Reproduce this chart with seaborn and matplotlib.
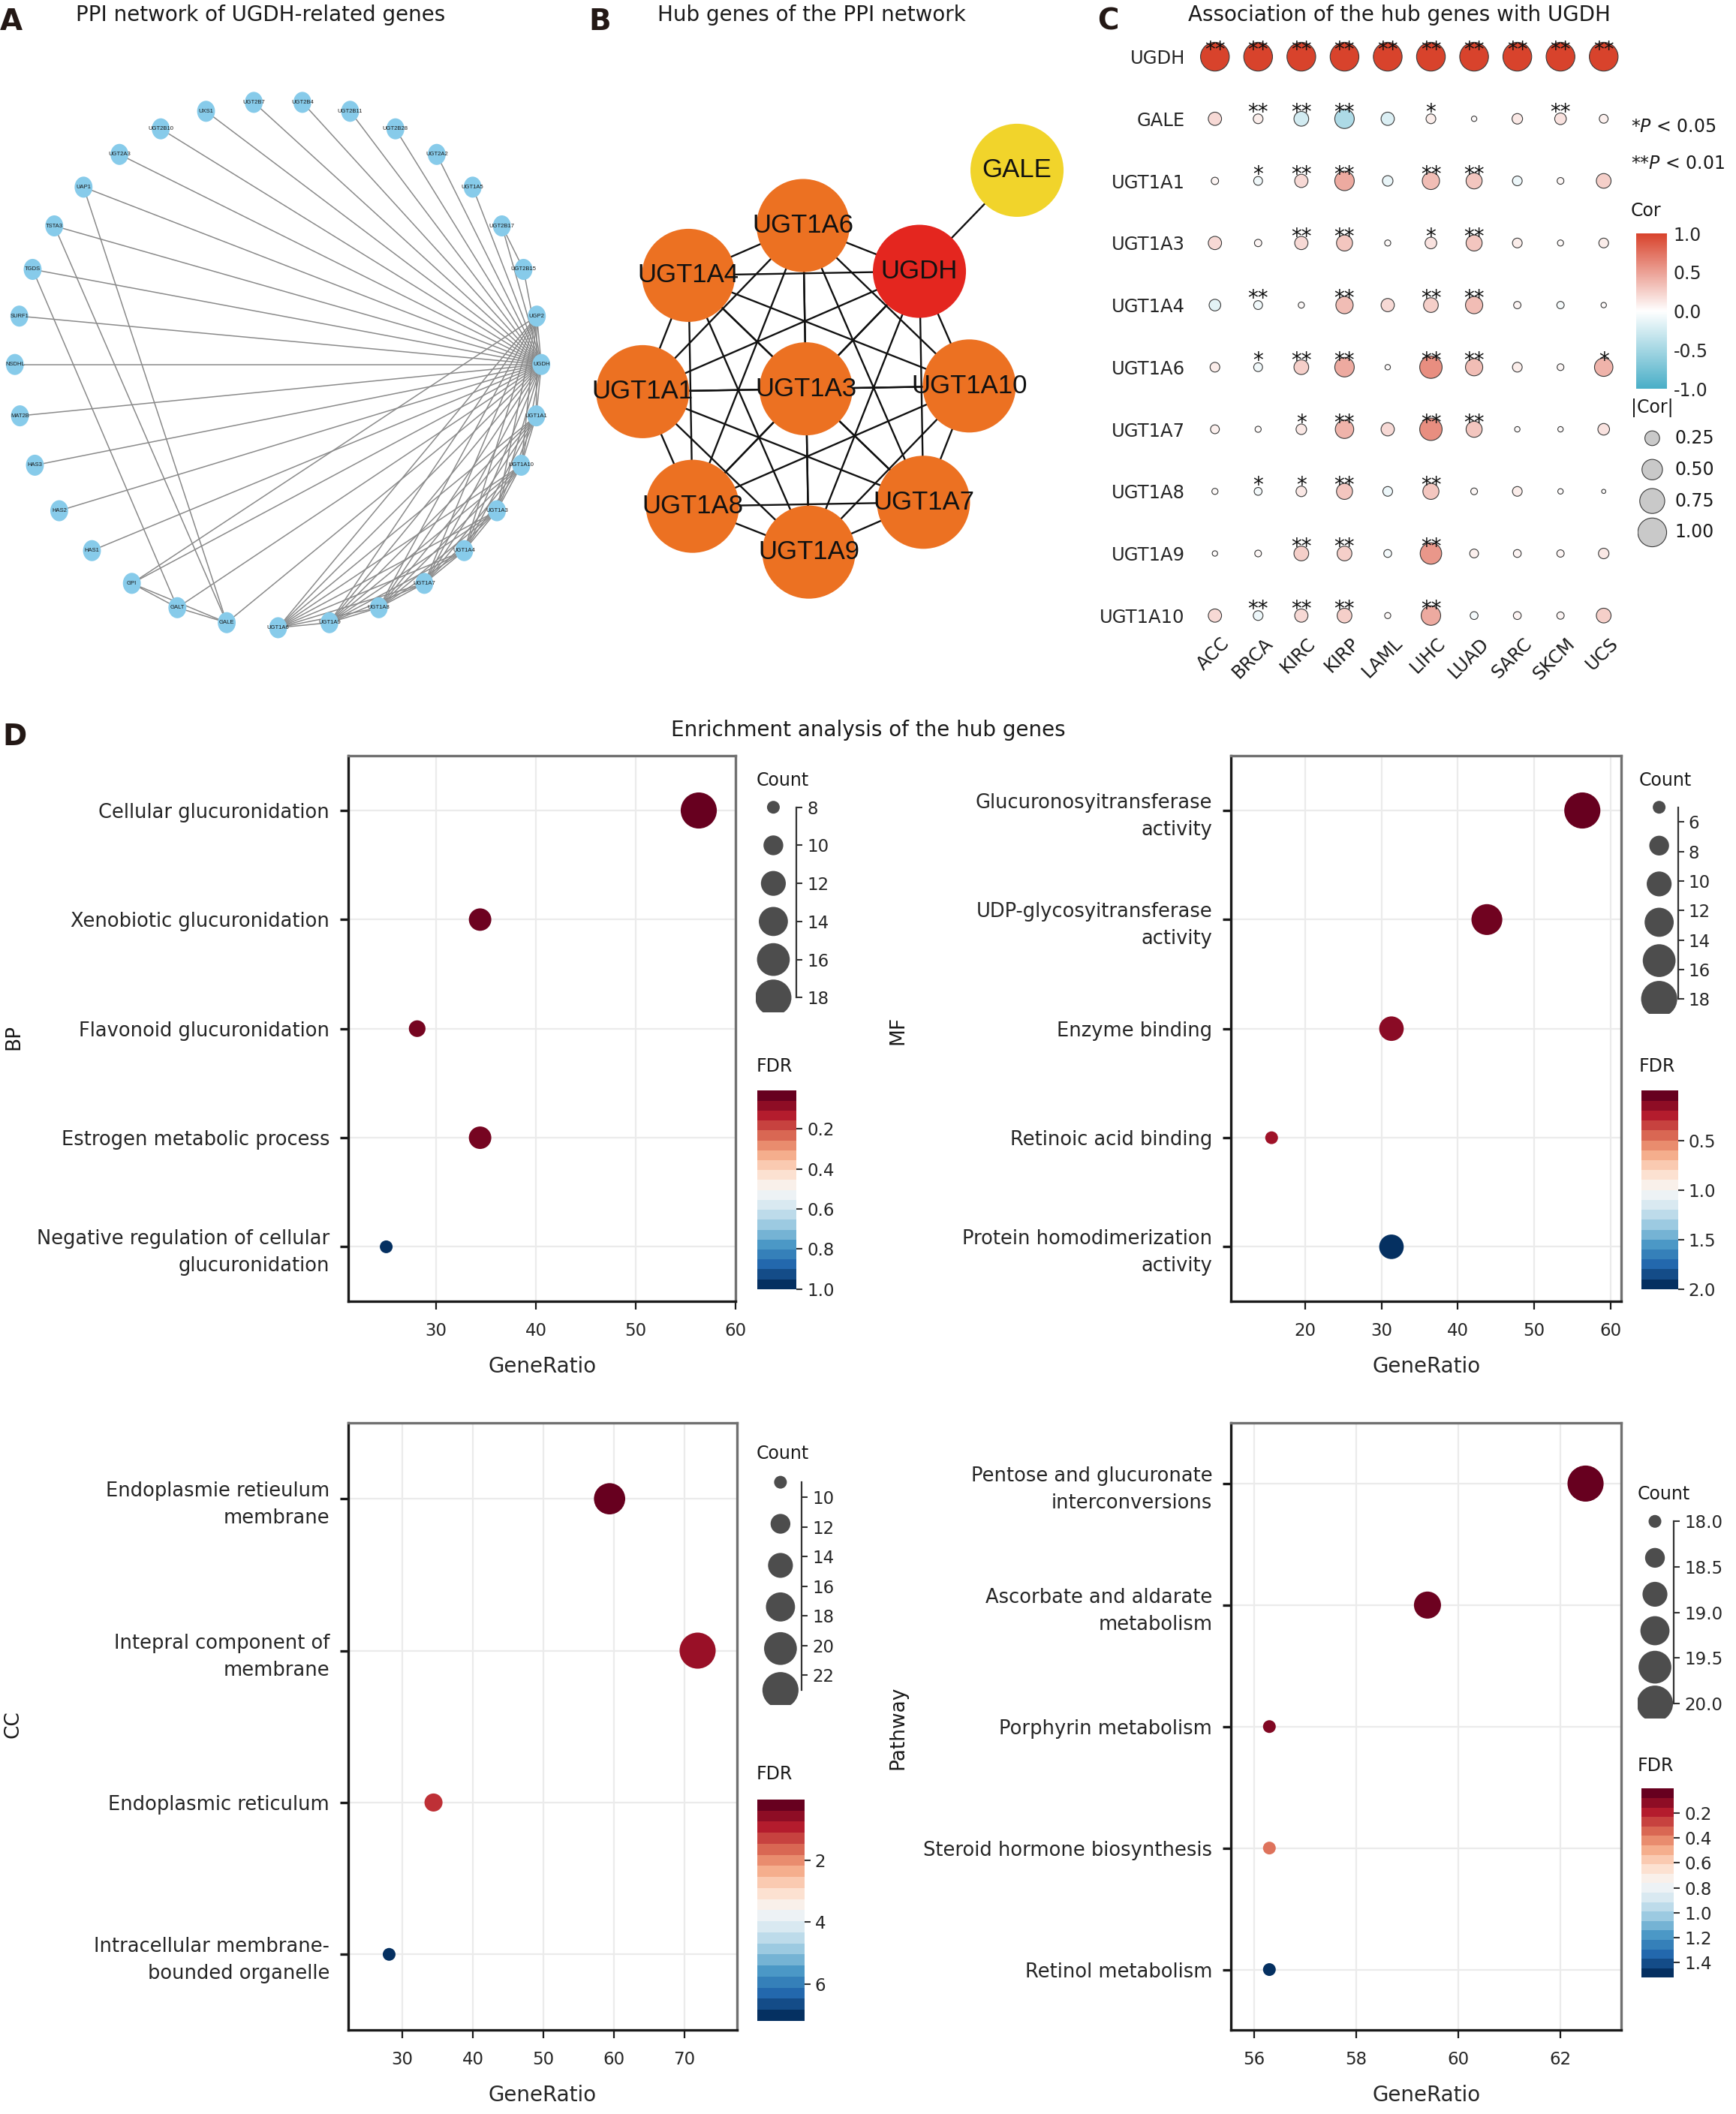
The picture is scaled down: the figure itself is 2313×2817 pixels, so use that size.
import itertools
import numpy as np
import pandas as pd
import matplotlib
matplotlib.use('Agg')
import matplotlib.pyplot as plt
from matplotlib.colors import LinearSegmentedColormap, Normalize
from matplotlib.cm import ScalarMappable
from matplotlib.patches import Circle, Ellipse
from matplotlib.ticker import FormatStrFormatter
import seaborn as sns

# ---------------- data ----------------
# A: PPI network of UGDH-related genes (circular layout, upper half then lower half)
ppi_upper = ['UGDH', 'UGP2', 'UGT2B15', 'UGT2B17', 'UGT1A5', 'UGT2A2', 'UGT2B28', 'UGT2B11',
             'UGT2B4', 'UGT2B7', 'UXS1', 'UGT2B10', 'UGT2A3', 'UAP1', 'TSTA3', 'TGDS', 'SURF1']
ppi_lower = ['NSDHL', 'MAT2B', 'HAS3', 'HAS2', 'HAS1', 'GPI', 'GALT', 'GALE', 'UGT1A6',
             'UGT1A9', 'UGT1A8', 'UGT1A7', 'UGT1A4', 'UGT1A3', 'UGT1A10', 'UGT1A1']
ugt1a = ['UGT1A1', 'UGT1A3', 'UGT1A4', 'UGT1A6', 'UGT1A7', 'UGT1A8', 'UGT1A9', 'UGT1A10']
ppi_extra_edges = [('UGT2B17', 'UGT2B15'), ('TGDS', 'GALT'), ('TSTA3', 'GALE'), ('UAP1', 'GALE'),
                   ('GPI', 'GALT'), ('GALT', 'GALE'), ('GPI', 'GALE'), ('UGP2', 'GPI')]

# B: hub genes
hub_ring = ['UGT1A10', 'UGDH', 'UGT1A6', 'UGT1A4', 'UGT1A1', 'UGT1A8', 'UGT1A9', 'UGT1A7']
hub_center = 'UGT1A3'
hub_outer = 'GALE'
hub_colors = {'UGDH': '#E4261F', 'GALE': '#F1D42B'}

# C: association of the hub genes with UGDH
c_genes = ['UGDH', 'GALE', 'UGT1A1', 'UGT1A3', 'UGT1A4', 'UGT1A6', 'UGT1A7', 'UGT1A8', 'UGT1A9', 'UGT1A10']
c_cancers = ['ACC', 'BRCA', 'KIRC', 'KIRP', 'LAML', 'LIHC', 'LUAD', 'SARC', 'SKCM', 'UCS']
cor_values = [
    [1.0, 1.0, 1.0, 1.0, 1.0, 1.0, 1.0, 1.0, 1.0, 1.0],
    [0.20, 0.10, -0.25, -0.45, -0.20, 0.10, 0.02, 0.12, 0.15, 0.08],
    [0.05, -0.08, 0.20, 0.45, -0.12, 0.35, 0.30, -0.10, 0.04, 0.25],
    [0.20, 0.05, 0.20, 0.30, 0.03, 0.15, 0.30, 0.10, 0.03, 0.10],
    [-0.15, -0.08, 0.03, 0.35, 0.20, 0.25, 0.35, 0.05, -0.05, 0.02],
    [0.10, -0.08, 0.25, 0.45, 0.02, 0.60, 0.35, 0.10, 0.04, 0.40],
    [0.08, 0.03, 0.12, 0.40, 0.20, 0.60, 0.30, 0.02, 0.02, 0.15],
    [0.03, -0.06, 0.12, 0.30, -0.10, 0.30, 0.04, 0.10, 0.02, 0.005],
    [0.02, 0.04, 0.25, 0.25, -0.06, 0.55, 0.08, 0.06, 0.05, 0.12],
    [0.20, -0.10, 0.20, 0.25, 0.03, 0.45, -0.06, 0.06, 0.05, 0.25],
]
sig_marks = [
    ['**'] * 10,
    ['', '**', '**', '**', '', '*', '', '', '**', ''],
    ['', '*', '**', '**', '', '**', '**', '', '', ''],
    ['', '', '**', '**', '', '*', '**', '', '', ''],
    ['', '**', '', '**', '', '**', '**', '', '', ''],
    ['', '*', '**', '**', '', '**', '**', '', '', '*'],
    ['', '', '*', '**', '', '**', '**', '', '', ''],
    ['', '*', '*', '**', '', '**', '', '', '', ''],
    ['', '', '**', '**', '', '**', '', '', '', ''],
    ['', '**', '**', '**', '', '**', '', '', '', ''],
]
cor_ticks = [1.0, 0.5, 0.0, -0.5, -1.0]
abs_cor_legend = [0.25, 0.50, 0.75, 1.00]

# D: enrichment analysis
bp_terms = ['Cellular glucuronidation', 'Xenobiotic glucuronidation', 'Flavonoid glucuronidation',
            'Estrogen metabolic process', 'Negative regulation of cellular\nglucuronidation']
bp_ratio = [56.3, 34.4, 28.1, 34.4, 25.0]
bp_count = [18, 11, 9, 11, 8]
bp_fdr = [0.01, 0.02, 0.03, 0.03, 1.0]

mf_terms = ['Glucuronosyitransferase\nactivity', 'UDP-glycosyitransferase\nactivity', 'Enzyme binding',
            'Retinoic acid binding', 'Protein homodimerization\nactivity']
mf_ratio = [56.3, 43.8, 31.3, 15.6, 31.3]
mf_count = [18, 14, 10, 5, 10]
mf_fdr = [0.0, 0.03, 0.1, 0.15, 2.0]

cc_terms = ['Endoplasmie retieulum\nmembrane', 'Intepral component of\nmembrane', 'Endoplasmic reticulum',
            'Intracellular membrane-\nbounded organelle']
cc_ratio = [59.4, 71.9, 34.4, 28.1]
cc_count = [19, 23, 11, 9]
cc_fdr = [0.02, 0.5, 1.0, 7.2]

pw_terms = ['Pentose and glucuronate\ninterconversions', 'Ascorbate and aldarate\nmetabolism',
            'Porphyrin metabolism', 'Steroid hormone biosynthesis', 'Retinol metabolism']
pw_ratio = [62.5, 59.4, 56.3, 56.3, 56.3]
pw_count = [20, 19, 18, 18, 18]
pw_fdr = [0.005, 0.02, 0.06, 0.35, 1.52]

# ---------------- layout helpers ----------------
W, H = 1286, 1566  # layout grid of the reference (scaled pixels)


def rect(x0, y0, x1, y1):
    return [x0 / W, 1 - y1 / H, (x1 - x0) / W, (y1 - y0) / H]


def fxy(x, y):
    return x / W, 1 - y / H


sns.set_theme(style='white')
plt.rcParams['font.family'] = ['DejaVu Sans']
plt.rcParams['mathtext.fontset'] = 'dejavusans'
plt.rcParams['text.color'] = '#1a1a1a'

fig = plt.figure(figsize=(23.13, 28.17), dpi=100)

# panel letters and titles
for letter, (x, y) in zip('ABCD', [(0, 16), (436, 16), (813, 16), (2, 546)]):
    fig.text(*fxy(x, y), letter, fontsize=28, fontweight='bold', ha='left', va='center', color='#231815')
fig.text(*fxy(56, 11), 'PPI network of UGDH-related genes', fontsize=20, va='center')
fig.text(*fxy(487, 11), 'Hub genes of the PPI network', fontsize=20, va='center')
fig.text(*fxy(880, 11), 'Association of the hub genes with UGDH', fontsize=20, va='center')
fig.text(*fxy(643, 541), 'Enrichment analysis of the hub genes', fontsize=20, va='center', ha='center')

# ---------------- A ----------------
ax_a = fig.add_axes(rect(0, 55.5, 421, 484.5))
names_a = ppi_upper + ppi_lower
ang_a = np.deg2rad(np.r_[np.linspace(0, 180, len(ppi_upper) + 1)[:-1],
                         np.linspace(180, 360, len(ppi_lower) + 1)[:-1]])
pos_a = {n: (np.cos(t), np.sin(t)) for n, t in zip(names_a, ang_a)}
edges_a = [('UGDH', n) for n in names_a if n != 'UGDH']
edges_a += [('UGP2', n) for n in ugt1a]
edges_a += list(itertools.combinations(ugt1a, 2)) + ppi_extra_edges
for u, v in edges_a:
    ax_a.plot([pos_a[u][0], pos_a[v][0]], [pos_a[u][1], pos_a[v][1]], color='#8a8a8a', lw=1.1, zorder=1)
for n, (x, y) in pos_a.items():
    ax_a.add_patch(Ellipse((x, y), 0.068, 0.08, color='#87CBEA', lw=0, zorder=2))
    ax_a.text(x, y, n, fontsize=5.5, ha='center', va='center', family='Liberation Sans', zorder=3)
ax_a.set_xlim(-206 / 195, 215 / 195)
ax_a.set_ylim(-1.1, 1.1)
ax_a.axis('off')

# ---------------- B ----------------
ax_b = fig.add_axes(rect(421.6, 70.2, 808.8, 463.5))
ang_b = np.deg2rad(np.arange(len(hub_ring)) * 360 / len(hub_ring) + 1)
pos_b = {n: (np.cos(t), np.sin(t)) for n, t in zip(hub_ring, ang_b)}
pos_b[hub_center] = (0.0, 0.0)
pos_b[hub_outer] = (1.86 * pos_b['UGDH'][0], 1.86 * pos_b['UGDH'][1])
edges_b = list(itertools.combinations(hub_ring + [hub_center], 2)) + [('UGDH', hub_outer)]
for u, v in edges_b:
    ax_b.plot([pos_b[u][0], pos_b[v][0]], [pos_b[u][1], pos_b[v][1]], color='#111111', lw=1.7, zorder=1)
for n, (x, y) in pos_b.items():
    ax_b.add_patch(Circle((x, y), 0.285, color=hub_colors.get(n, '#EC7122'), lw=0, zorder=2))
    ax_b.text(x, y, n, fontsize=25, ha='center', va='center', family='Liberation Sans',
              color='#111111', zorder=3)
ax_b.set_xlim(-1.45, 1.75)
ax_b.set_ylim(-1.45, 1.8)
ax_b.set_aspect('equal')
ax_b.axis('off')

# ---------------- C ----------------
cor_cmap = LinearSegmentedColormap.from_list('cor', ['#49AEC7', '#FFFFFF', '#D8432C'])
rows, cols = np.meshgrid(np.arange(len(c_genes)), np.arange(len(c_cancers)), indexing='ij')
df_c = pd.DataFrame({'row': rows.ravel(), 'col': cols.ravel(),
                     'cor': np.array(cor_values).ravel()})
df_c['abs_cor'] = df_c['cor'].abs()
ax_c = fig.add_axes(rect(884, 19, 1204, 479))
sns.scatterplot(data=df_c, x='col', y='row', hue='cor', size='abs_cor', palette=cor_cmap,
                hue_norm=(-1, 1), sizes=(12, 760), size_norm=(0, 1), edgecolor='#3a3a3a',
                linewidth=0.8, legend=False, ax=ax_c, zorder=2)
for i in range(len(c_genes)):
    for j in range(len(c_cancers)):
        if sig_marks[i][j]:
            ax_c.text(j, i - 0.1, sig_marks[i][j], ha='center', va='center', fontsize=20,
                      color='#111111', zorder=3)
for j, name in enumerate(c_cancers):
    ax_c.text(j + 0.12, 9.3, name, rotation=45, ha='right', va='top', rotation_mode='anchor', fontsize=17.5)
ax_c.set_xlim(-0.5, len(c_cancers) - 0.5)
ax_c.set_ylim(len(c_genes) - 0.5, -0.5)
ax_c.set_yticks(range(len(c_genes)))
ax_c.set_yticklabels(c_genes, fontsize=17.5)
ax_c.set_xticks([])
ax_c.tick_params(axis='y', length=0, pad=8)
ax_c.set_xlabel('')
ax_c.set_ylabel('')
sns.despine(ax=ax_c, left=True, bottom=True)
ax_c.patch.set_alpha(0)

fig.text(*fxy(1208, 94), r'*$P$ < 0.05', fontsize=17, va='center')
fig.text(*fxy(1208, 121), r'**$P$ < 0.01', fontsize=17, va='center')
fig.text(*fxy(1208, 156), 'Cor', fontsize=17, va='center')
fig.text(*fxy(1208, 302), '|Cor|', fontsize=17, va='center')

cax_c = fig.add_axes(rect(1212, 173, 1235, 288))
cb_c = fig.colorbar(ScalarMappable(norm=Normalize(-1, 1), cmap=cor_cmap), cax=cax_c, ticks=cor_ticks)
cb_c.outline.set_visible(False)
cb_c.ax.yaxis.set_major_formatter(FormatStrFormatter('%.1f'))
cb_c.ax.tick_params(labelsize=17, length=5, width=1.2, color='white', direction='in', pad=6)

leg_c = fig.add_axes(rect(1213, 313, 1286, 406))
sns.scatterplot(x=[0.15] * len(abs_cor_legend), y=range(len(abs_cor_legend)), size=abs_cor_legend,
                sizes=(12, 760), size_norm=(0, 1), color='#C9C9C9', edgecolor='#3a3a3a',
                linewidth=0.8, legend=False, ax=leg_c)
for k, v in enumerate(abs_cor_legend):
    leg_c.text(0.38, k, f'{v:.2f}', fontsize=17, va='center')
leg_c.set_xlim(0, 1)
leg_c.set_ylim(len(abs_cor_legend) - 0.5, -0.5)
leg_c.axis('off')

# ---------------- D ----------------
fdr_points = matplotlib.colormaps['RdBu']
fdr_bins = matplotlib.colormaps['RdBu'].resampled(20)

panels = [
    dict(terms=bp_terms, ratio=bp_ratio, count=bp_count, fdr=bp_fdr, label='BP', label_xy=(10, 768),
         box=(258, 560, 545, 964), xlim=(21.2, 60.0), xticks=[30, 40, 50, 60],
         count_ticks=[8, 10, 12, 14, 16, 18], count_fmt='%d', leg=(560, 590, 598, 739, 0.43),
         count_title=(560, 578), fdr_ticks=[0.2, 0.4, 0.6, 0.8, 1.0], fdr_fmt='%.1f',
         cbar=(561, 808, 590, 955), fdr_title=(560, 790)),
    dict(terms=mf_terms, ratio=mf_ratio, count=mf_count, fdr=mf_fdr, label='MF', label_xy=(665, 763),
         box=(912, 560, 1201, 964), xlim=(10.3, 61.4), xticks=[20, 30, 40, 50, 60],
         count_ticks=[6, 8, 10, 12, 14, 16, 18], count_fmt='%d', leg=(1214, 1243, 598, 740, 0.52),
         count_title=(1214, 578), fdr_ticks=[0.5, 1.0, 1.5, 2.0], fdr_fmt='%.1f',
         cbar=(1216, 808, 1243, 955), fdr_title=(1214, 790)),
    dict(terms=cc_terms, ratio=cc_ratio, count=cc_count, fdr=cc_fdr, label='CC', label_xy=(10, 1277),
         box=(258, 1054, 546, 1504), xlim=(22.3, 77.5), xticks=[30, 40, 50, 60, 70],
         count_ticks=[10, 12, 14, 16, 18, 20, 22], count_fmt='%d', leg=(561, 594, 1098, 1252, 0.52),
         count_title=(560, 1077), fdr_ticks=[2, 4, 6], fdr_fmt='%d',
         cbar=(561, 1333, 596, 1497), fdr_title=(560, 1314)),
    dict(terms=pw_terms, ratio=pw_ratio, count=pw_count, fdr=pw_fdr, label='Pathway', label_xy=(665, 1280),
         box=(912, 1054, 1201, 1504), xlim=(55.55, 63.2), xticks=[56, 58, 60, 62],
         count_ticks=[18.0, 18.5, 19.0, 19.5, 20.0], count_fmt='%.1f', leg=(1213, 1240, 1127, 1262, 0.48),
         count_title=(1213, 1107), fdr_ticks=[0.2, 0.4, 0.6, 0.8, 1.0, 1.2, 1.4], fdr_fmt='%.1f',
         cbar=(1216, 1325, 1240, 1465), fdr_title=(1213, 1308)),
]
dot_sizes = (150, 1200)

for p in panels:
    n = len(p['terms'])
    df = pd.DataFrame({'GeneRatio': p['ratio'], 'Count': p['count'], 'FDR': p['fdr'], 'pos': np.arange(n)})
    cnorm = (min(p['count']), max(p['count']))
    fnorm = Normalize(min(p['fdr']), max(p['fdr']))

    ax = fig.add_axes(rect(*p['box']))
    sns.scatterplot(data=df, x='GeneRatio', y='pos', hue='FDR', palette=fdr_points, hue_norm=fnorm,
                    size='Count', sizes=dot_sizes, size_norm=cnorm, linewidth=0, legend=False,
                    ax=ax, zorder=3)
    ax.set_xlim(*p['xlim'])
    ax.set_ylim(n - 0.5, -0.5)
    ax.set_xticks(p['xticks'])
    ax.set_yticks(range(n))
    ax.set_yticklabels(p['terms'], fontsize=18.5)
    for lab in ax.get_yticklabels():
        lab.set_linespacing(1.5)
    ax.tick_params(axis='x', labelsize=16.5, bottom=True, length=8, width=1.6, color='#1a1a1a', pad=12)
    ax.tick_params(axis='y', left=True, length=8, width=2.4, color='#1a1a1a', pad=10)
    ax.grid(True, color='#EBEBEB', lw=1.6)
    ax.set_axisbelow(True)
    for side in ['left', 'bottom']:
        ax.spines[side].set_color('#1a1a1a')
        ax.spines[side].set_linewidth(2.4)
    for side in ['top', 'right']:
        ax.spines[side].set_color('#707070')
        ax.spines[side].set_linewidth(2.4)
    ax.set_xlabel('GeneRatio', fontsize=20, labelpad=16)
    ax.set_ylabel('')
    fig.text(*fxy(*p['label_xy']), p['label'], fontsize=19, rotation=90, ha='center', va='center')

    # count (size) legend
    lx0, lx1, ly0, ly1, cx = p['leg']
    lax = fig.add_axes(rect(lx0, ly0 - 11, lx1, ly1 + 11))
    vals = np.linspace(cnorm[0], cnorm[1], 6)
    sns.scatterplot(x=np.full(6, cx), y=vals, size=vals, sizes=dot_sizes, size_norm=cnorm,
                    color='#4D4D4D', linewidth=0, legend=False, ax=lax)
    pad = (cnorm[1] - cnorm[0]) * 11 / (ly1 - ly0)
    lax.set_xlim(0, 1)
    lax.set_ylim(cnorm[1] + pad, cnorm[0] - pad)
    for side in ['left', 'top', 'bottom']:
        lax.spines[side].set_visible(False)
    lax.spines['right'].set_bounds(cnorm[0], cnorm[1])
    lax.spines['right'].set_color('#333333')
    lax.spines['right'].set_linewidth(1.6)
    lax.yaxis.tick_right()
    lax.set_yticks(p['count_ticks'])
    lax.yaxis.set_major_formatter(FormatStrFormatter(p['count_fmt']))
    lax.tick_params(axis='y', right=True, labelsize=16.5, length=6, width=1.5, color='#333333', pad=4)
    lax.set_xticks([])
    lax.patch.set_alpha(0)
    fig.text(*fxy(*p['count_title']), 'Count', fontsize=17, va='center')

    # FDR colour bar (low FDR at the top)
    cax = fig.add_axes(rect(*p['cbar']))
    cb = fig.colorbar(ScalarMappable(norm=fnorm, cmap=fdr_bins), cax=cax, ticks=p['fdr_ticks'],
                      drawedges=True)
    cb.ax.invert_yaxis()
    cb.outline.set_visible(False)
    cb.dividers.set_color('white')
    cb.dividers.set_alpha(0.45)
    cb.dividers.set_linewidth(0.8)
    cb.ax.yaxis.set_major_formatter(FormatStrFormatter(p['fdr_fmt']))
    cb.ax.tick_params(labelsize=16.5, length=6, width=1.5, color='#333333', pad=4)
    fig.text(*fxy(*p['fdr_title']), 'FDR', fontsize=17, va='center')

fig.savefig('out.png', dpi=100)
